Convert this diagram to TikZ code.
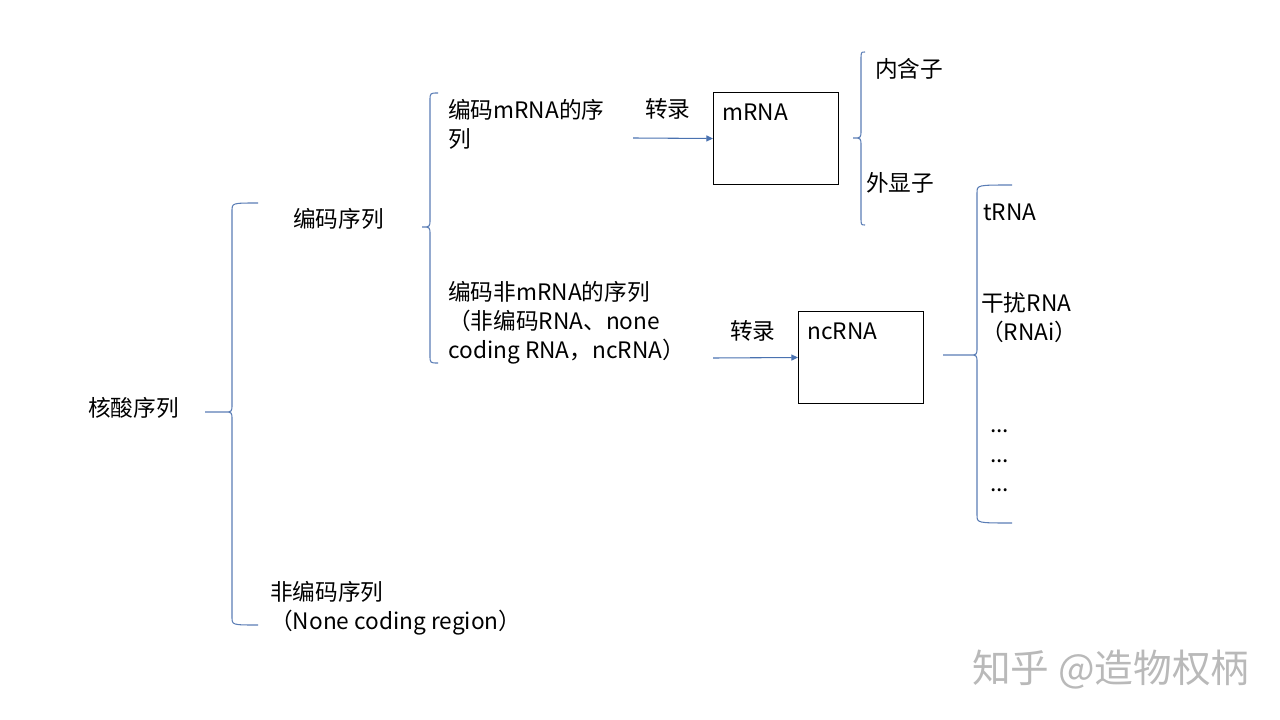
\documentclass[tikz,border=0pt]{standalone}
\usepackage{fontspec}
\setmainfont{Noto Sans CJK SC}
\usetikzlibrary{arrows.meta, positioning}
\definecolor{bracecol}{HTML}{5A7DB5}
\definecolor{arrowcol}{HTML}{4A72B0}
\tikzset{txt/.style={anchor=base west, inner sep=0pt, align=left, font=\fontsize{17}{21.75}\selectfont}}
% curly brace: x of stem, top, tip, bottom, x of ends, x of tip
\newcommand{\curly}[6]{%
  \draw[brace] (#5,#2) .. controls (#1,#2) .. (#1,#2+8) -- (#1,#3-8)
    .. controls (#1,#3) .. (#1-8,#3) -- (#6,#3) -- (#1-8,#3)
    .. controls (#1,#3) .. (#1,#3+8) -- (#1,#4-8)
    .. controls (#1,#4) .. (#5,#4);}

\begin{document}
\begin{tikzpicture}[x=0.75pt, y=-0.75pt,
    brace/.style={draw=bracecol, line width=0.8pt},
    box/.style={draw, line width=0.75pt, anchor=north west, inner sep=0pt,
      minimum width=93.75pt, minimum height=69pt},
    boxlabel/.style={txt, anchor=north west, xshift=6.75pt, yshift=-8.5pt},
    arr/.style={draw=arrowcol, line width=0.8pt, -{Triangle[length=5pt, width=4.5pt]}}]

    \useasboundingbox (0,0) rectangle (1280,720);

    % Texts (base = last line)
    \node[txt] (nucleic) at (88,416) {核酸序列};
    \node[txt] (coding) at (293,228) {编码序列};
    \node[txt] (noncoding) at (270,629) {非编码序列\\（None coding region）};
    \node[txt] (codmrna) at (448,148) {编码mRNA的序\\列};
    \node[txt] (codnon) at (448,358) {编码非mRNA的序列\\（非编码RNA、none\\coding RNA，ncRNA）};
    \node[txt] (tr1) at (645,118) {转录};
    \node[txt] (tr2) at (730,339) {转录};
    \node[txt] (intron) at (875,78) {内含子};
    \node[txt] (exon) at (866,192) {外显子};
    \node[txt] (trna) at (983,220) {tRNA};
    \node[txt] (rnai) at (981,340) {干扰RNA\\（RNAi）};
    \node[txt] (dots1) at (990,432) {...};
    \node[txt] (dots2) at (990,462) {...};
    \node[txt] (dots3) at (990,491) {...};

    % Boxes
    \node[box, label={[boxlabel]north west:mRNA}] (mrna) at (713,92) {};
    \node[box, label={[boxlabel]north west:ncRNA}] (ncrna) at (798,311) {};

    % Arrows
    \coordinate (a1) at (633,138);
    \coordinate (a2) at (713,358);
    \draw[arr] (a1) -- (mrna.west);
    \draw[arr] (a2) -- (ncrna.west);

    % Braces
    \curly{232}{203}{412}{625}{258}{205}
    \curly{430}{93}{227}{363}{438}{422}
    \curly{861}{52}{138}{225}{865}{856}
    \curly{977}{185}{355}{523}{1012}{943}

    \node[anchor=west, inner sep=0pt, text=gray!55, font=\fontsize{29}{34}\selectfont] (mark) at (972,670) {知乎 @造物权柄};

\end{tikzpicture}
\end{document}
